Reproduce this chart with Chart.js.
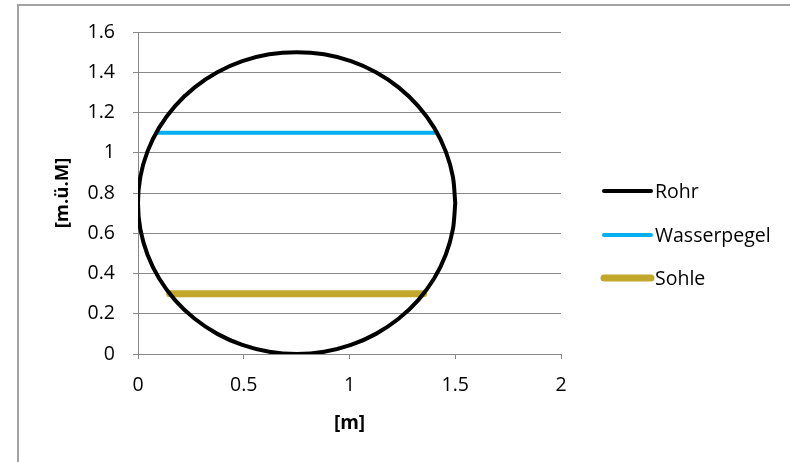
<!DOCTYPE html>
<html>
<head>
<meta charset="utf-8">
<script src="https://cdn.jsdelivr.net/npm/chart.js@4/dist/chart.umd.min.js"></script>
<style>
  html, body { margin: 0; padding: 0; background: #fff; overflow: hidden; }
  #wrap { position: relative; width: 790px; height: 462px; }
  #frame {
    position: absolute; left: 17px; top: 4px; width: 800px; height: 500px;
    border-left: 2px solid #a3a3a3; border-top: 2px solid #a3a3a3;
    pointer-events: none;
  }
</style>
</head>
<body>
<div id="wrap">
  <canvas id="chart" width="790" height="462"></canvas>
  <div id="frame"></div>
</div>
<script>
// Rohr (pipe cross-section)
const rohrX = [1.5, 1.489, 1.455, 1.400, 1.325, 1.232, 1.125, 1.007, 0.880, 0.75,
  0.620, 0.493, 0.375, 0.268, 0.175, 0.100, 0.045, 0.011, 0,
  0.011, 0.045, 0.100, 0.175, 0.268, 0.375, 0.493, 0.620, 0.75,
  0.880, 1.007, 1.125, 1.232, 1.325, 1.400, 1.455, 1.489, 1.5];
const rohrY = [0.75, 0.880, 1.007, 1.125, 1.232, 1.325, 1.400, 1.455, 1.489, 1.5,
  1.489, 1.455, 1.400, 1.325, 1.232, 1.125, 1.007, 0.880, 0.75,
  0.620, 0.493, 0.375, 0.268, 0.175, 0.100, 0.045, 0.011, 0,
  0.011, 0.045, 0.100, 0.175, 0.268, 0.375, 0.493, 0.620, 0.75];

// Wasserpegel
const wasserX = [0.087, 1.413];
const wasserY = [1.1, 1.1];

// Sohle
const sohleX = [0.15, 1.35];
const sohleY = [0.3, 0.3];

const seriesNames = ['Rohr', 'Wasserpegel', 'Sohle'];
const xTicks = ['0', '0.5', '1', '1.5', '2'];
const yTicks = ['0', '0.2', '0.4', '0.6', '0.8', '1', '1.2', '1.4', '1.6'];

const FONT = '"Open Sans", sans-serif';

function pts(xs, ys) {
  return xs.map((x, i) => ({ x: x, y: ys[i] }));
}

// legend on the right, drawn by hand like Excel does it
const sideLegend = {
  id: 'sideLegend',
  afterDraw(chart) {
    const ctx = chart.ctx;
    const rows = [191, 235, 278];
    ctx.save();
    chart.data.datasets.forEach((ds, i) => {
      const y = rows[i];
      ctx.strokeStyle = ds.borderColor;
      ctx.lineWidth = ds.borderWidth;
      ctx.lineCap = 'round';
      ctx.beginPath();
      ctx.moveTo(604, y);
      ctx.lineTo(651, y);
      ctx.stroke();
      ctx.fillStyle = '#000';
      ctx.font = '19.5px ' + FONT;
      ctx.textBaseline = 'middle';
      ctx.textAlign = 'left';
      ctx.fillText(ds.label, 655, y + 1);
    });
    ctx.restore();
  }
};

new Chart(document.getElementById('chart'), {
  type: 'scatter',
  data: {
    datasets: [
      { label: seriesNames[0], data: pts(rohrX, rohrY), borderColor: '#000000', borderWidth: 4, tension: 0.3 },
      { label: seriesNames[1], data: pts(wasserX, wasserY), borderColor: '#00B0F0', borderWidth: 4, tension: 0 },
      { label: seriesNames[2], data: pts(sohleX, sohleY), borderColor: '#C2A82A', borderWidth: 7, tension: 0 }
    ].map(d => Object.assign(d, {
      showLine: true, pointRadius: 0, pointHoverRadius: 0,
      borderCapStyle: 'round', borderJoinStyle: 'round', fill: false
    }))
  },
  options: {
    responsive: false,
    animation: false,
    layout: { padding: { left: 50, top: 32, right: 229, bottom: 25 } },
    plugins: { legend: { display: false }, tooltip: { enabled: false } },
    scales: {
      x: {
        type: 'linear', min: 0, max: 2,
        afterFit: s => { s.height = 83; },
        ticks: {
          stepSize: 0.5, color: '#000', padding: 15,
          font: { family: FONT, size: 19.5 },
          callback: (v, i) => xTicks[i]
        },
        grid: { drawOnChartArea: false, drawTicks: true, tickLength: 5, color: '#888' },
        border: { color: '#888' },
        title: {
          display: true, text: '[m]', color: '#000',
          font: { family: FONT, size: 19, weight: 'bold' }, padding: { top: 0, bottom: 2 }
        }
      },
      y: {
        type: 'linear', min: 0, max: 1.6,
        afterFit: s => { s.width = 88; },
        ticks: {
          stepSize: 0.2, color: '#000', padding: 18,
          font: { family: FONT, size: 19.5 },
          callback: (v, i) => yTicks[i]
        },
        grid: { drawTicks: true, tickLength: 5, color: '#888' },
        border: { color: '#888' },
        title: {
          display: true, text: '[m.ü.M]', color: '#000',
          font: { family: FONT, size: 18.5, weight: 'bold' }, padding: { top: 2, bottom: 0 }
        }
      }
    }
  },
  plugins: [sideLegend]
});
</script>
</body>
</html>
